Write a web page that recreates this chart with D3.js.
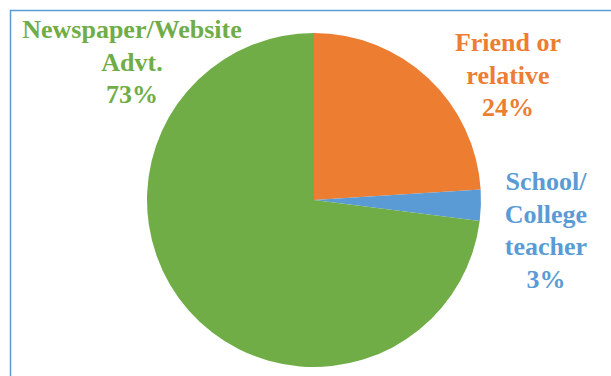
<!DOCTYPE html>
<html>
<head>
<meta charset="utf-8">
<script src="https://cdn.jsdelivr.net/npm/d3@7"></script>
<style>
  html, body { margin: 0; padding: 0; background: #fff; }
  svg { display: block; }
  .lbl { font-family: "Liberation Serif", "Times New Roman", Times, "DejaVu Serif", serif; font-weight: bold; font-size: 26px; }
</style>
</head>
<body>
<svg id="chart" width="611" height="376"></svg>
<script>
// Source of information about the opening
const categories = ["Friend or relative", "School/College teacher", "Newspaper/Website Advt."];
const values = [24, 3, 73];
const colors = ["#ED7D31", "#5B9BD5", "#70AD47"];
// Label text, one array of lines per slice
const labelLines = [
  ["Friend or", "relative", "24%"],
  ["School/", "College", "teacher", "3%"],
  ["Newspaper/Website", "Advt.", "73%"]
];

const svg = d3.select("#chart");
const W = 611, H = 376;

// chart frame (top and left edges visible)
svg.append("path")
  .attr("d", "M10.5," + H + " L10.5,10.5 L" + W + ",10.5")
  .attr("fill", "none")
  .attr("stroke", "#5B9BD5")
  .attr("stroke-width", 1.5);

const cx = 314, cy = 200, r = 167;

const pie = d3.pie().sort(null).value(d => d);
const arcs = pie(values);
const arc = d3.arc().innerRadius(0).outerRadius(r);

const g = svg.append("g").attr("transform", `translate(${cx},${cy})`);
g.selectAll("path.slice")
  .data(arcs)
  .join("path")
  .attr("class", "slice")
  .attr("d", arc)
  .attr("fill", (d, i) => colors[i]);

// Label placement (center x, first baseline y), in page coordinates
const labelPos = [
  { x: 508, y: 51 },
  { x: 546, y: 190 },
  { x: 132, y: 38 }
];
const lineStep = 32.5;

const labels = svg.append("g").attr("text-anchor", "middle");

labelLines.forEach((lines, i) => {
  const t = labels.append("text")
    .attr("class", "lbl")
    .attr("fill", colors[i])
    .attr("x", labelPos[i].x)
    .attr("y", labelPos[i].y);
  lines.forEach((ln, j) => {
    t.append("tspan")
      .attr("x", labelPos[i].x)
      .attr("y", labelPos[i].y + j * lineStep)
      .text(ln);
  });
});
</script>
</body>
</html>
